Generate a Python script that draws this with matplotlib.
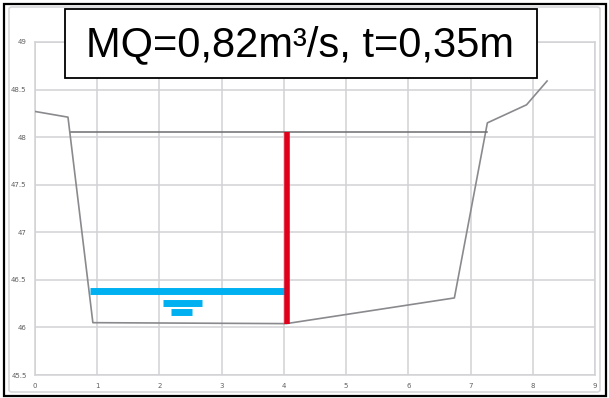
import matplotlib
matplotlib.use("Agg")
import matplotlib.pyplot as plt
from matplotlib.patches import Rectangle, FancyBboxPatch

# cross-section profile (station [m], elevation [m])
profile_x = [0.0, 0.53, 0.93, 4.04, 6.74, 7.27, 7.9, 8.23]
profile_y = [48.27, 48.21, 46.05, 46.04, 46.31, 48.15, 48.34, 48.59]

# bankfull line
bank_x = [0.58, 7.26]
bank_y = [48.05, 48.05]

# water depth marker and mean water level
depth_x = 4.05
depth_y = [46.04, 48.05]
mw_x = [0.88, 4.05]
mw_y = 46.38
# water level symbol below the MW line
sym1_x = [2.06, 2.68]
sym1_y = 46.26
sym2_x = [2.19, 2.52]
sym2_y = 46.16

xticks = list(range(0, 10))
yticks = [45.5, 46, 46.5, 47, 47.5, 48, 48.5, 49]
ytick_labels = ["45.5", "46", "46.5", "47", "47.5", "48", "48.5", "49"]

title = "MQ=0,82m³/s, t=0,35m"

W, H = 609, 398
fig = plt.figure(figsize=(W / 100, H / 100), dpi=100)
fig.patch.set_facecolor("white")

ax = fig.add_axes([35 / W, 1 - 375 / H, 560 / W, 333 / H])
ax.set_facecolor("white")

ax.plot(profile_x, profile_y, color="#8a8a8e", lw=1.2, zorder=3)
ax.plot(bank_x, bank_y, color="#6e6e72", lw=1.1, zorder=3)
ax.plot(mw_x, [mw_y, mw_y], color="#00b0f0", lw=5, solid_capstyle="butt", zorder=4)
ax.plot(sym1_x, [sym1_y, sym1_y], color="#00b0f0", lw=5, solid_capstyle="butt", zorder=4)
ax.plot(sym2_x, [sym2_y, sym2_y], color="#00b0f0", lw=5, solid_capstyle="butt", zorder=4)
ax.plot([depth_x, depth_x], depth_y, color="#e0001b", lw=4, solid_capstyle="butt", zorder=5)

ax.set_xlim(0, 9)
ax.set_ylim(45.5, 49)
ax.set_xticks(xticks)
ax.set_yticks(yticks)
ax.set_yticklabels(ytick_labels)
ax.grid(True, color="#d2d2d6", lw=1.1)
ax.set_axisbelow(True)
for s in ax.spines.values():
    s.set_color("#d2d2d6")
    s.set_linewidth(1.1)
ax.tick_params(length=0, labelsize=5, labelcolor="#606060", pad=6)

# chart area border and outer frame
fig.patches.append(FancyBboxPatch((9 / W, 6 / H), 591 / W, 385 / H,
                                  boxstyle="round,pad=0,rounding_size=0.005",
                                  transform=fig.transFigure, fill=False,
                                  edgecolor="#d8d8dc", lw=1.2))
fig.patches.append(Rectangle((4 / W, 2 / H), 602 / W, 392 / H,
                             transform=fig.transFigure, fill=False,
                             edgecolor="black", lw=1.6))

# title box
fig.patches.append(Rectangle((65 / W, 1 - 78 / H), 472 / W, 69 / H,
                             transform=fig.transFigure, facecolor="white",
                             edgecolor="black", lw=1.3, zorder=10))
fig.text(300 / W, 1 - 45 / H, title, ha="center", va="center",
         fontsize=30, family="Liberation Sans", color="black", zorder=11)

fig.savefig("out.png", dpi=100)
